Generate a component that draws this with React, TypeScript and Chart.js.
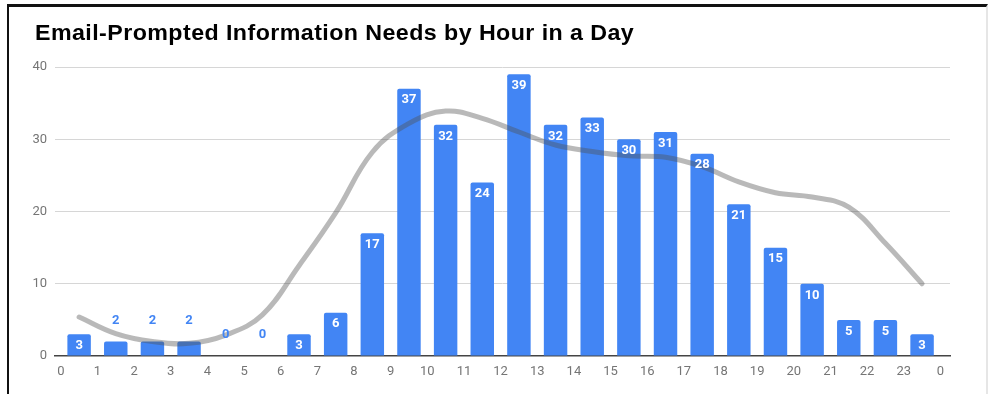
import React, { useEffect, useRef } from "react";
import { Chart, registerables } from "chart.js";

Chart.register(...registerables);

const TITLE = "Email-Prompted Information Needs by Hour in a Day";
const hours = [0, 1, 2, 3, 4, 5, 6, 7, 8, 9, 10, 11, 12, 13, 14, 15, 16, 17, 18, 19, 20, 21, 22, 23];
const counts = [3, 2, 2, 2, 0, 0, 3, 6, 17, 37, 32, 24, 39, 32, 33, 30, 31, 28, 21, 15, 10, 5, 5, 3];
const trend = [5.4, 3.1, 2.0, 1.75, 2.9, 5.7, 12.5, 19.8, 28.2, 32.2, 33.9, 32.9, 31.0, 29.2, 28.3, 27.7, 27.5, 26.2, 24.1, 22.6, 22.0, 20.6, 15.6, 10.0];
const xTickLabels = ["0", "1", "2", "3", "4", "5", "6", "7", "8", "9", "10", "11", "12", "13", "14", "15", "16", "17", "18", "19", "20", "21", "22", "23", "0"];
const yTicks = [0, 10, 20, 30, 40];

const BLUE = "#4285F4";

export default function App() {
  const ref = useRef<HTMLCanvasElement | null>(null);

  useEffect(() => {
    const canvas = ref.current;
    if (!canvas) return;

    const titlePlugin = {
      id: "titleText",
      afterDraw(chart: any) {
        const ctx = chart.ctx;
        ctx.save();
        ctx.font = "bold 21.5px 'Liberation Sans', Arial, sans-serif";
        try {
          (ctx as any).letterSpacing = "0.4px";
        } catch (e) {}
        ctx.fillStyle = "#000";
        ctx.textBaseline = "alphabetic";
        ctx.textAlign = "left";
        ctx.translate(35, 40);
        ctx.scale(1.08, 1);
        ctx.fillText(TITLE, 0, 0);
        ctx.restore();
      },
    };

    const labelPlugin = {
      id: "barLabels",
      afterDatasetsDraw(chart: any) {
        const ctx = chart.ctx;
        const meta = chart.getDatasetMeta(1);
        ctx.save();
        ctx.font = "bold 13px Roboto, Arial, sans-serif";
        ctx.textAlign = "center";
        ctx.textBaseline = "middle";
        meta.data.forEach((bar: any, i: number) => {
          const v = counts[i];
          if (v >= 3) {
            ctx.fillStyle = "#ffffff";
            ctx.fillText(String(v), bar.x, bar.y + 11.5);
          } else {
            ctx.fillStyle = BLUE;
            ctx.fillText(String(v), bar.x, bar.y - 21);
          }
        });
        ctx.restore();
      },
    };

    const chart = new Chart(canvas, {
      type: "bar",
      data: {
        datasets: [
          {
            type: "line",
            data: hours.map((h, i) => ({ x: h + 0.5, y: trend[i] })),
            borderColor: "rgba(80,80,80,0.4)",
            borderWidth: 5,
            pointRadius: 0,
            tension: 0.4,
            borderCapStyle: "round",
            borderJoinStyle: "round",
            fill: false,
          } as any,
          {
            type: "bar",
            data: hours.map((h, i) => ({ x: h + 0.5, y: counts[i] })),
            backgroundColor: BLUE,
            borderRadius: 2,
            borderSkipped: "start",
            barPercentage: 0.64,
            categoryPercentage: 1,
          } as any,
        ],
      },
      options: {
        responsive: false,
        animation: false,
        events: [],
        layout: { padding: { top: 67, left: 25, right: 38, bottom: 0 } },
        plugins: {
          legend: { display: false },
          title: { display: false },
          tooltip: { enabled: false },
        },
        scales: {
          x: {
            type: "linear",
            offset: false,
            min: -0.158,
            max: 24.262,
            grid: { display: false, drawTicks: false, offset: false },
            border: { display: true, color: "#444", width: 1.5 },
            afterBuildTicks: (scale: any) => {
              scale.ticks = xTickLabels.map((_, i) => ({ value: i }));
            },
            afterFit: (scale: any) => {
              scale.height = 38;
              scale.paddingLeft = 0;
              scale.paddingRight = 0;
            },
            ticks: {
              autoSkip: false,
              maxRotation: 0,
              padding: 8,
              color: "#757575",
              font: { family: "Roboto, Arial, sans-serif", size: 13 },
              callback: (v: any) => xTickLabels[Math.round(v)],
            },
          },
          y: {
            min: 0,
            max: 40,
            afterBuildTicks: (scale: any) => {
              scale.ticks = yTicks.map((v) => ({ value: v }));
            },
            afterFit: (scale: any) => {
              scale.width = 30;
            },
            grid: {
              drawTicks: false,
              color: (c: any) => (c.tick && c.tick.value === 0 ? "rgba(0,0,0,0)" : "#d6d6d6"),
              lineWidth: 1,
            },
            border: { display: false },
            ticks: {
              padding: 8,
              color: "#757575",
              font: { family: "Roboto, Arial, sans-serif", size: 13 },
            },
          },
        },
      } as any,
      plugins: [titlePlugin, labelPlugin],
    });

    return () => chart.destroy();
  }, []);

  return (
    <div style={{ position: "absolute", left: 0, top: 0, width: 988, height: 394, background: "#fff", overflow: "hidden" }}>
      <canvas ref={ref} width={988} height={394} style={{ display: "block", width: 988, height: 394 }} />
      <div
        style={{
          position: "absolute",
          left: 7,
          top: 4,
          width: 977,
          height: 400,
          borderTop: "3px solid #111",
          borderLeft: "2px solid #111",
          borderRight: "2px solid #e6e6e6",
          pointerEvents: "none",
        }}
      />
    </div>
  );
}
